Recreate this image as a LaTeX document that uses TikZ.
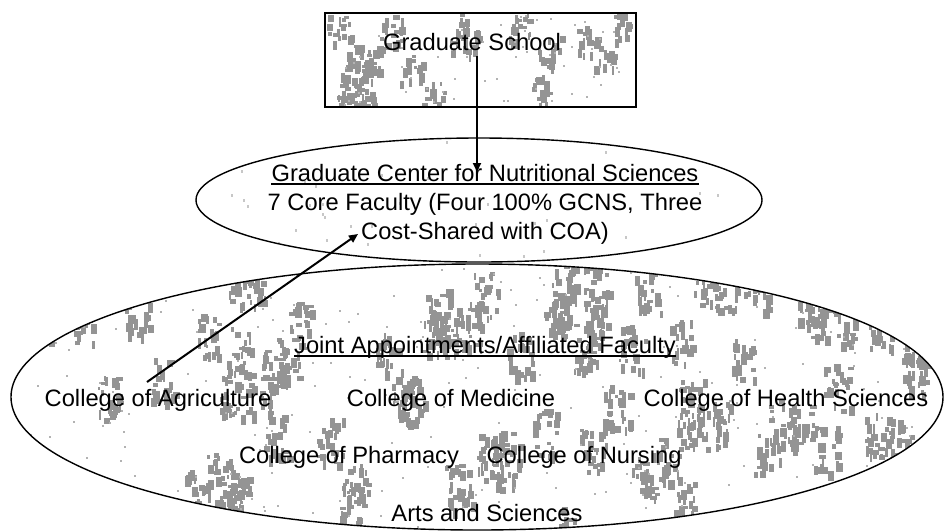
\documentclass[tikz,border=0pt]{standalone}
\usepackage{fontspec}
\setmainfont{Liberation Sans}
\usetikzlibrary{shapes.geometric,arrows.meta}
\begin{document}
\begin{tikzpicture}[x=1pt,y=-1pt,
  lbl/.style={font=\fontsize{23.7}{28}\selectfont, inner sep=0pt, anchor=base},
  frame/.style={draw=black, line width=1.4pt, inner sep=0pt},
  link/.style={draw=black, line width=2pt, -{Triangle[length=9pt,width=8pt]}},
  uline/.style={draw=black, line width=1.3pt},
  speck/.style={fill=black!42},
  dot/.style={fill=black!30}]
\useasboundingbox[fill=white] (0,0) rectangle (944,531);

% granite texture inside the faculty ellipse
\pgfmathsetseed{7}
\begin{scope}
  \clip (477,397) ellipse [x radius=466, y radius=133];
  \foreach \k in {1,...,75} {
    \pgfmathsetmacro\cx{20+rnd*904}
    \pgfmathsetmacro\cy{262+rnd*270}
    \foreach \j in {1,...,24} {
      \pgfmathsetmacro\dx{(rnd-0.5)*26}
      \pgfmathsetmacro\dy{(rnd-0.5)*46}
      \pgfmathsetmacro\w{2+rnd*5}
      \pgfmathsetmacro\h{3+rnd*8}
      \fill[speck] (\cx+\dx,\cy+\dy) rectangle ++(\w,\h);
    }
  }
  \foreach \k in {1,...,220} {
    \pgfmathsetmacro\cx{20+rnd*904}
    \pgfmathsetmacro\cy{262+rnd*270}
    \fill[dot] (\cx,\cy) rectangle ++(2,2);
  }
\end{scope}

% granite texture inside the Graduate School box
\begin{scope}
  \clip (325,13) rectangle (636,107);
  \foreach \k in {1,...,18} {
    \pgfmathsetmacro\cx{330+rnd*300}
    \pgfmathsetmacro\cy{15+rnd*90}
    \foreach \j in {1,...,16} {
      \pgfmathsetmacro\dx{(rnd-0.5)*24}
      \pgfmathsetmacro\dy{(rnd-0.5)*30}
      \pgfmathsetmacro\w{2+rnd*5}
      \pgfmathsetmacro\h{3+rnd*7}
      \fill[speck] (\cx+\dx,\cy+\dy) rectangle ++(\w,\h);
    }
  }
  \foreach \k in {1,...,60} {
    \pgfmathsetmacro\cx{330+rnd*300}
    \pgfmathsetmacro\cy{15+rnd*90}
    \fill[dot] (\cx,\cy) rectangle ++(2,2);
  }
\end{scope}

% a few faint specks in the centre ellipse
\begin{scope}
  \clip (479,200) ellipse [x radius=282, y radius=61];
  \foreach \k in {1,...,45} {
    \pgfmathsetmacro\cx{200+rnd*560}
    \pgfmathsetmacro\cy{140+rnd*120}
    \fill[black!22] (\cx,\cy) rectangle ++(2,3);
  }
\end{scope}

% outlines
\node[frame, rectangle, minimum width=311pt, minimum height=94pt] (gsbox) at (480.5,60) {};
\node[frame, ellipse, minimum width=566pt, minimum height=124pt] (gcns) at (479,200) {};
\node[frame, ellipse, minimum width=932pt, minimum height=266pt] (fac) at (477,397) {};

% labels
\node[lbl] (gs) at (472,50) {Graduate School};
\node[lbl] (l1) at (485,181) {Graduate Center for Nutritional Sciences};
\node[lbl] (l2) at (485,210) {7 Core Faculty (Four 100\% GCNS, Three};
\node[lbl] (l3) at (485,239) {Cost-Shared with COA)};
\draw[uline] ([yshift=-3pt]l1.base west) -- ([yshift=-3pt]l1.base east);

\node[lbl] (ja) at (485,353) {Joint Appointments/Affiliated Faculty};
\draw[uline] ([yshift=-3pt]ja.base west) -- ([yshift=-3pt]ja.base east);

\node[lbl] (agri) at (158,406) {College of Agriculture};
\node[lbl] (med) at (451,406) {College of Medicine};
\node[lbl] (health) at (786,406) {College of Health Sciences};
\node[lbl] (pharm) at (349,463) {College of Pharmacy};
\node[lbl] (nurs) at (584,463) {College of Nursing};
\node[lbl] (arts) at (487,521) {Arts and Sciences};

% connectors
\coordinate (vtop) at (477,56);
\coordinate (vtip) at (477,172);
\draw[link] (vtop) -- (vtip);
\coordinate (agtail) at (147,382);
\coordinate (cstip) at (358,234);
\draw[link] (agtail) -- (cstip);
\end{tikzpicture}
\end{document}
